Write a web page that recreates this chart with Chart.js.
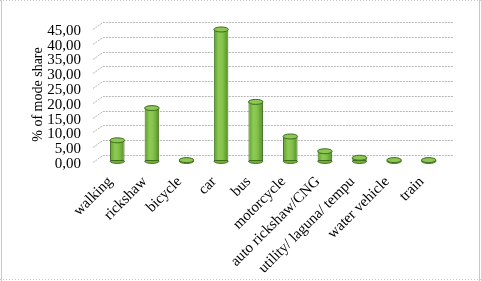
<!DOCTYPE html>
<html><head><meta charset="utf-8">
<script src="https://cdn.jsdelivr.net/npm/chart.js@4.4.1/dist/chart.umd.min.js"></script>
<style>html,body{margin:0;padding:0;background:#fff}canvas{display:block}</style>
</head><body>
<canvas id="c" width="481" height="281"></canvas>
<script>
const categories = ["walking","rickshaw","bicycle","car","bus","motorcycle","auto rickshaw/CNG","utility/ laguna/ tempu","water vehicle","train"];
const modeShare = [7.0, 17.9, 0.3, 44.5, 20.0, 8.3, 3.3, 1.1, 0.3, 0.3];
const yTicks = [0,5,10,15,20,25,30,35,40,45];

const SERIF = "Liberation Serif";
const DX = 7, DY = -6;

const framePlugin = {
  id: 'frame',
  beforeDraw(chart) {
    const ctx = chart.ctx, W = chart.width, H = chart.height;
    ctx.save();
    ctx.fillStyle = '#fff'; ctx.fillRect(0,0,W,H);
    ctx.strokeStyle = '#c8c8c8'; ctx.lineWidth = 1;
    ctx.beginPath(); ctx.moveTo(1.5,0); ctx.lineTo(1.5,H); ctx.moveTo(W-1.5,0); ctx.lineTo(W-1.5,H); ctx.stroke();
    ctx.setLineDash([1,2]);
    ctx.beginPath(); ctx.moveTo(0,0.5); ctx.lineTo(W,0.5); ctx.moveTo(0,H-1.5); ctx.lineTo(W,H-1.5); ctx.stroke();
    const y = chart.scales.y, a = chart.chartArea;
    ctx.strokeStyle = '#b8b8b8'; ctx.setLineDash([2,1]);
    yTicks.forEach(v => {
      const py = Math.round(y.getPixelForValue(v)) + 0.5;
      ctx.beginPath();
      ctx.moveTo(a.left - 7, py + 1);
      ctx.lineTo(a.left + 3, py + DY);
      ctx.lineTo(a.right + DX, py + DY);
      ctx.stroke();
    });
    ctx.restore();
  }
};

const capPlugin = {
  id: 'caps',
  afterDatasetsDraw(chart) {
    const ctx = chart.ctx;
    const meta = chart.getDatasetMeta(0);
    ctx.save();
    meta.data.forEach(bar => {
      const w = bar.width, cx = bar.x, rx = w/2, ry = 2.5;
      ctx.beginPath();
      ctx.ellipse(cx, bar.base, rx, ry, 0, 0, Math.PI);
      ctx.fillStyle = '#6fae38'; ctx.fill();
      ctx.strokeStyle = '#4a7d22'; ctx.lineWidth = 1; ctx.stroke();
      ctx.beginPath();
      ctx.ellipse(cx, bar.y, rx, ry, 0, 0, Math.PI*2);
      ctx.fillStyle = '#8cc655'; ctx.fill();
      ctx.strokeStyle = '#3f6d1c'; ctx.stroke();
    });
    ctx.restore();
  }
};

function barFill(context) {
  const chart = context.chart;
  if (!chart.chartArea) return '#7cba45';
  const x = chart.scales.x.getPixelForValue(context.dataIndex);
  const w = 14.5;
  const g = chart.ctx.createLinearGradient(x - w/2, 0, x + w/2, 0);
  g.addColorStop(0, '#5f9e2c');
  g.addColorStop(0.35, '#8ecb56');
  g.addColorStop(0.6, '#84c24b');
  g.addColorStop(1, '#548f25');
  return g;
}

new Chart(document.getElementById('c'), {
  type: 'bar',
  data: {
    labels: categories,
    datasets: [{
      data: modeShare,
      backgroundColor: barFill,
      borderColor: '#3f6d1c',
      borderWidth: 1,
      borderSkipped: false,
      categoryPercentage: 1,
      barPercentage: 0.42
    }]
  },
  options: {
    responsive: false,
    animation: false,
    events: [],
    layout: { padding: { left: 24, right: 35, top: 24, bottom: 0 } },
    plugins: { legend: { display: false }, tooltip: { enabled: false } },
    scales: {
      x: {
        grid: { display: false, drawTicks: false },
        border: { display: false },
        ticks: {
          color: '#000', font: { family: SERIF, size: 15 },
          maxRotation: 45, minRotation: 45, padding: 12, labelOffset: -7, autoSkip: false
        },
        afterFit(s) { s.height = 120; }
      },
      y: {
        min: 0, max: 45,
        grid: { display: false, drawTicks: false },
        border: { display: false },
        afterBuildTicks(s) { s.ticks = yTicks.map(v => ({ value: v })); },
        ticks: {
          color: '#000', font: { family: SERIF, size: 15 }, padding: 19, labelOffset: 3, autoSkip: false,
          callback: v => v.toFixed(2).replace('.', ',')
        },
        title: { display: true, text: '% of mode share', color: '#000', font: { family: SERIF, size: 14 }, padding: { top: 6, bottom: 0 } },
        afterFit(s) { s.width = 76; }
      }
    }
  },
  plugins: [framePlugin, capPlugin]
});
</script>
</body></html>
